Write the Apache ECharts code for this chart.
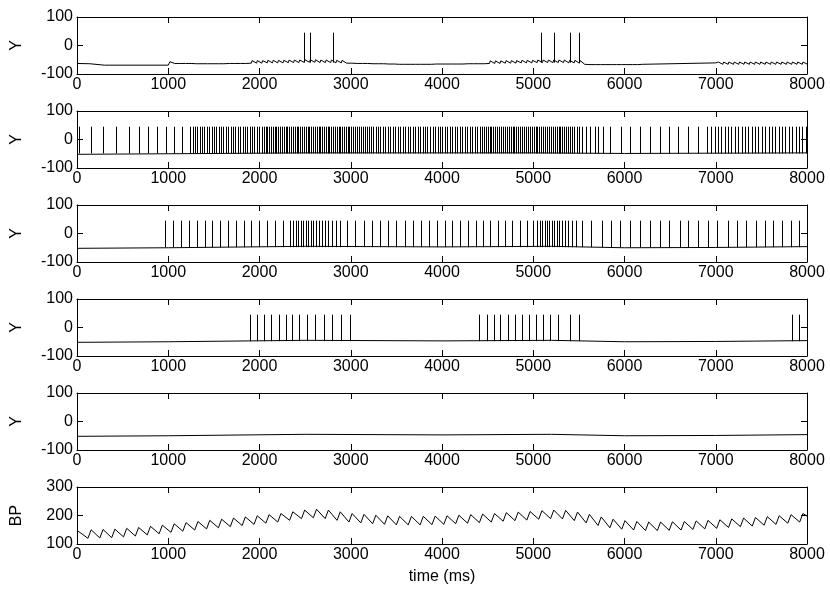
<!DOCTYPE html>
<html>
<head>
<meta charset="utf-8">
<script src="https://cdn.jsdelivr.net/npm/echarts@6/dist/echarts.min.js"></script>
<style>html,body{margin:0;padding:0;background:#fff}#c{width:830px;height:610px}</style>
</head>
<body>
<div id="c"></div>
<script>
// ---------- data ----------
const xTicks = [0, 8000, 1000];
const spikePeak = 45;
const spikeBase = [-60, -49, -48, -48];

// panel 1: membrane trace (with small synaptic ripples), [time, value]
const base1 = [[0,-63],[140,-64],[160,-68],[300,-69],[1000,-69],[1002,-63],
[1010,-63],[1018,-57],[1070,-63],[1078,-57],[1130,-63],[1138,-57],[1190,-63],[1198,-57],[1250,-63],[1258,-57],
[1310,-64],[1318,-58],[1370,-64],[1378,-58],[1430,-64],[1438,-58],[1490,-64],[1498,-58],[1550,-64],[1558,-58],[1610,-64],[1618,-58],[1670,-63],[1678,-57],[1730,-63],[1738,-57],[1790,-63],[1798,-57],[1850,-63],[1858,-56],
[1910,-62],[1918,-53],[1968,-62],[1976,-53],[2026,-62],[2034,-53],[2084,-61],[2092,-52],[2142,-61],[2150,-52],[2200,-61],[2208,-52],[2258,-61],[2266,-52],[2316,-60],[2324,-51],[2374,-60],[2382,-51],
[2432,-60],[2440,-51],[2490,-59],[2498,-50],[2548,-59],[2556,-50],[2606,-59],[2614,-50],[2664,-60],[2672,-51],[2722,-60],[2730,-51],[2780,-60],[2788,-51],[2838,-61],[2846,-52],[2896,-61],[2904,-52],
[2954,-62],[2962,-55],[3012,-62],[3020,-55],[3070,-63],[3078,-56],[3128,-63],[3136,-56],[3186,-63],[3194,-56],[3244,-64],[3252,-57],[3302,-64],[3310,-57],[3360,-64],[3368,-57],[3418,-65],[3426,-58],[3476,-65],[3484,-58],
[3534,-66],[3542,-60],[3592,-66],[3600,-60],[3650,-66],[3658,-60],[3708,-66],[3716,-60],[3766,-66],[3774,-60],[3824,-66],[3832,-60],[3882,-66],[3890,-60],[3940,-65],[3948,-59],[3998,-65],[4006,-59],[4056,-65],[4064,-59],[4114,-65],[4122,-59],[4172,-65],[4180,-59],[4230,-65],[4238,-58],[4288,-64],[4296,-57],[4346,-64],[4354,-57],[4404,-64],[4412,-57],[4462,-64],[4470,-57],
[4520,-63],[4528,-54],[4578,-63],[4586,-54],[4636,-63],[4644,-54],[4694,-62],[4702,-53],[4752,-62],[4760,-53],[4810,-62],[4818,-53],[4868,-61],[4876,-52],[4926,-61],[4934,-52],[4984,-61],[4992,-52],
[5042,-60],[5050,-51],[5100,-60],[5108,-51],[5158,-60],[5166,-51],[5216,-60],[5224,-51],[5274,-60],[5282,-51],[5332,-60],[5340,-51],[5390,-61],[5398,-52],[5448,-61],[5456,-52],[5506,-62],[5514,-53],
[5564,-66],[5572,-60],[5622,-67],[5630,-61],[5680,-67],[5688,-61],[5738,-67],[5746,-61],[5796,-67],[5804,-61],[5854,-67],[5862,-61],[5912,-67],[5920,-61],[5970,-67],[5978,-61],[6028,-67],[6036,-61],[6086,-67],[6094,-61],[6144,-67],[6152,-61],
[6200,-66],[6205,-61],[7000,-61],[7005,-66],
[7020,-66],[7028,-58],[7078,-66],[7086,-58],[7136,-66],[7144,-58],[7194,-66],[7202,-58],[7252,-66],[7260,-58],[7310,-66],[7318,-58],[7368,-66],[7376,-58],[7426,-66],[7434,-58],[7484,-66],[7492,-58],[7542,-66],[7550,-58],[7600,-66],[7608,-58],[7658,-66],[7666,-58],[7716,-66],[7724,-58],[7774,-66],[7782,-58],[7832,-66],[7840,-58],[7890,-66],[7898,-58],[7948,-66],[7956,-58],[8000,-65]];
const spikes1 = [2488, 2558, 2807, 5081, 5232, 5406, 5499];

const base2 = [[0,-52],[1000,-50],[2500,-47],[5000,-47],[6000,-49],[8000,-47]];
const spikes2 = [25,150,285,430,570,680,778,882,980,1068,1155,1240,
1268,1293,1320,1345,1372,1397,1424,1450,1475,1502,1527,1553,1580,1605,1632,1657,1684,1709,1736,1762,1787,1814,1839,1866,1891,1918,1943,1970,1995,2022,2046,
2066,2087,2106,2127,2146,2167,2186,2207,2226,2247,2266,2287,2306,2327,2346,2367,2386,2407,2426,2447,2466,2487,2506,2527,2546,2567,2586,2607,2626,2647,2666,2687,2706,2727,2746,2767,2786,2807,2826,2847,2866,2887,2906,2927,2946,2967,2986,3007,3026,3047,3068,3090,3111,3134,3156,3179,3201,3225,3248,3272,3296,
3322,3349,3377,3404,3431,3459,3486,3513,3541,3568,3595,3623,3650,3677,3705,3732,3759,3787,3814,3841,3869,3896,3923,3951,3978,4005,4033,4060,4087,4115,4142,4169,4197,4224,4251,4279,4306,4333,4361,4388,4415,
4437,4458,4479,4500,4521,4542,4563,4584,4605,4626,4647,4668,4689,4710,4731,4752,4773,4794,4815,4836,4857,4878,4899,4920,4941,4962,4983,5004,5025,5046,5067,5088,5109,5130,5151,5172,5193,5214,5235,5256,5277,5298,5319,5340,5361,5382,5403,5426,5450,5475,5500,
5530,5580,5620,5680,5712,5762,
5843,5963,6061,6171,6280,6390,6492,6590,6700,6810,6902,
6950,6988,7024,7062,7098,7136,7172,7210,7246,7284,7320,7358,7394,7432,7468,7506,7542,7580,7616,7654,7690,7728,7764,7802,7838,7876,7912,7950,7986];

const base3 = [[0,-52],[1000,-50],[2500,-45],[4000,-47],[5200,-45],[6000,-50],[7000,-49],[8000,-46]];
const spikes3 = [969,1055,1140,1226,1312,1398,1483,1569,1655,1740,1826,1912,1997,2083,2168,2254,2330,
2368,2398,2425,2452,2478,2505,2532,2560,2588,2617,2648,2680,2714,2750,2790,2833,2880,
2960,3050,3140,3230,3320,3410,3500,3590,3680,3770,3860,3945,4030,4115,4200,4285,4370,4450,4530,4610,4690,4770,4850,4930,5000,
5040,5070,5098,5125,5150,5176,5202,5228,5255,5283,5312,5345,5380,5420,5465,
5534,5632,5748,5853,5951,6056,6172,6276,6392,6491,6607,6694,6810,6914,7013,7129,7233,7332,7436,7535,7622,7726,7825,7912];

const base4 = [[0,-52],[1000,-50],[2500,-45],[4000,-47],[5200,-45],[6000,-50],[7000,-49],[8000,-46]];
const spikes4 = [1891,1978,2053,2129,2210,2285,2361,2436,2517,2604,2703,2796,2894,2993,
4403,4490,4565,4640,4722,4797,4878,4954,5029,5110,5186,5273,5400,5505,
7836,7912];

const base5 = [[0,-52],[1000,-50],[2500,-45],[4000,-47],[5200,-45],[6000,-50],[7000,-49],[8000,-46]];

const bpStart = [0, 148];
const bpBeatTimes = [120,250,380,510,640,770,900,1030,1160,1290,1420,1550,1680,1810,1940,2070,2200,2330,2460,2590,2720,2850,2980,3110,3240,3370,3500,3630,3760,3890,4020,4150,4280,4410,4540,4670,4800,4930,5060,5190,5320,5450,5580,5710,5840,5970,6100,6230,6360,6490,6620,6750,6880,7010,7140,7270,7400,7530,7660,7790,7920];
const bpTrough = [120,121,122,125,128,132,136,141,145,149,153,157,161,165,169,173,177,183,189,192,189,183,177,174,171,169,167,167,167,168,169,171,173,175,177,180,182,184,187,189,188,182,174,165,157,152,149,147,147,148,149,151,153,155,158,161,163,166,169,173,177];
const bpPeak   = [150,151,152,155,158,162,166,171,175,179,183,187,191,195,199,203,207,213,219,222,219,213,207,204,201,199,197,197,197,198,199,201,203,205,207,210,212,214,217,219,218,212,204,195,187,182,179,177,177,178,179,181,183,185,188,191,193,196,199,203,207];
const bpEnd = [8000, 198];

// ---------- chart ----------
const FONT = 'Liberation Sans, Arial, sans-serif';
const FS = 16;
const RISE = 35;
const tops = [17, 111, 205, 299, 393, 487];
const H = 57;
const panels = [
  {base: base1, spikes: spikes1, name: 'Y', ymin: -100, ymax: 100, yint: 100},
  {base: base2, spikes: spikes2, name: 'Y', ymin: -100, ymax: 100, yint: 100},
  {base: base3, spikes: spikes3, name: 'Y', ymin: -100, ymax: 100, yint: 100},
  {base: base4, spikes: spikes4, name: 'Y', ymin: -100, ymax: 100, yint: 100},
  {base: base5, spikes: [], name: 'Y', ymin: -100, ymax: 100, yint: 100},
  {bp: true, name: 'BP', ymin: 100, ymax: 300, yint: 100}
];

const grid = [], xAxis = [], yAxis = [], series = [];
const axLine = {show: true, onZero: false, lineStyle: {color: '#000', width: 1}};
const tick = {show: true, inside: true, length: 6, lineStyle: {color: '#000', width: 1}};
const txt = {color: '#000', fontSize: FS, fontFamily: FONT};
const fmt = v => String(v);

panels.forEach((p, i) => {
  grid.push({left: 77, width: 730, top: tops[i], height: H});
  const xb = {gridIndex: i, type: 'value', min: xTicks[0], max: xTicks[1], interval: xTicks[2], position: 'bottom',
    axisLine: axLine, axisTick: tick, splitLine: {show: false},
    axisLabel: Object.assign({margin: 3, formatter: fmt}, txt)};
  if (i === 5) { xb.name = 'time (ms)'; xb.nameLocation = 'middle'; xb.nameGap = 25; xb.nameTextStyle = txt; }
  xAxis.push(xb);
  xAxis.push({gridIndex: i, type: 'value', min: xTicks[0], max: xTicks[1], interval: xTicks[2], position: 'top',
    axisLine: axLine, axisTick: tick, splitLine: {show: false}, axisLabel: {show: false}});
  yAxis.push({gridIndex: i, type: 'value', min: p.ymin, max: p.ymax, interval: p.yint, position: 'left',
    axisLine: axLine, axisTick: tick, splitLine: {show: false},
    axisLabel: Object.assign({margin: 4, formatter: fmt}, txt),
    name: p.name, nameLocation: 'middle', nameGap: 52, nameRotate: 90, nameTextStyle: txt});
  yAxis.push({gridIndex: i, type: 'value', min: p.ymin, max: p.ymax, interval: p.yint, position: 'right',
    axisLine: axLine, axisTick: tick, splitLine: {show: false}, axisLabel: {show: false}});

  const lineCommon = {type: 'line', xAxisIndex: 2*i, yAxisIndex: 2*i, showSymbol: false, symbol: 'none',
    lineStyle: {color: '#000', width: 1}, animation: false, silent: true, clip: true};
  if (p.bp) {
    const d = [bpStart];
    bpBeatTimes.forEach((t, k) => { d.push([t, bpTrough[k]]); d.push([t + RISE, bpPeak[k]]); });
    d.push(bpEnd);
    series.push(Object.assign({data: d}, lineCommon));
  } else {
    series.push(Object.assign({data: p.base}, lineCommon));
    if (p.spikes.length) {
      series.push({type: 'custom', xAxisIndex: 2*i, yAxisIndex: 2*i, animation: false, silent: true, clip: true,
        data: p.spikes.map(t => [t, spikeBase[i], spikePeak]),
        renderItem: (params, api) => {
          const a = api.coord([api.value(0), api.value(1)]);
          const b = api.coord([api.value(0), api.value(2)]);
          const x = Math.round(a[0]) + 0.5;
          return {type: 'line', shape: {x1: x, y1: a[1], x2: x, y2: b[1]}, style: {stroke: '#000', lineWidth: 1}};
        }});
    }
  }
});

const chart = echarts.init(document.getElementById('c'), null, {renderer: 'canvas'});
chart.setOption({animation: false, backgroundColor: '#fff', grid, xAxis, yAxis, series});
</script>
</body>
</html>
